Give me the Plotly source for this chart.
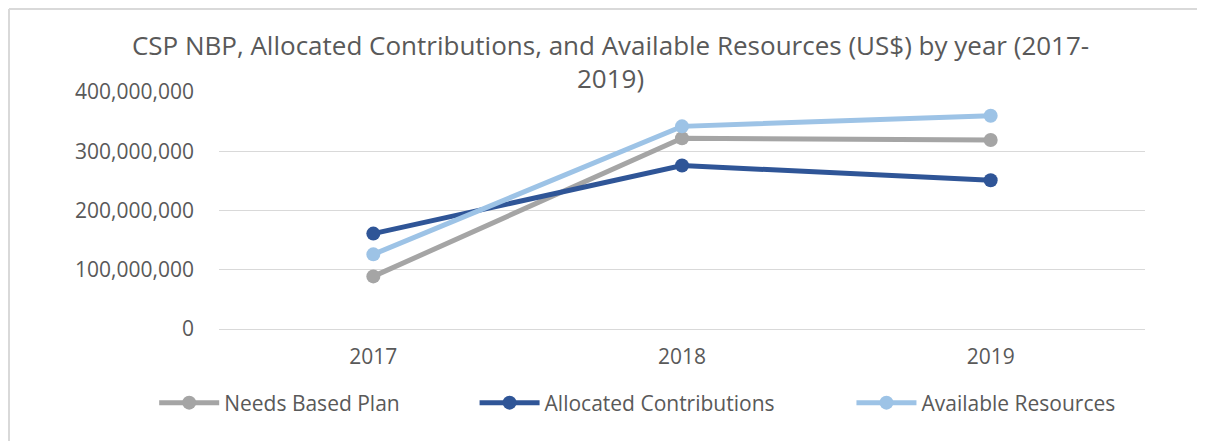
import plotly.graph_objects as go

years = ["2017", "2018", "2019"]
needs_based_plan = [88_800_000, 322_000_000, 319_000_000]
allocated_contributions = [161_000_000, 276_000_000, 251_000_000]
available_resources = [126_000_000, 342_000_000, 360_000_000]
y_ticks = [0, 100_000_000, 200_000_000, 300_000_000, 400_000_000]
y_tick_labels = ["0", "100,000,000", "200,000,000", "300,000,000", "400,000,000"]

series = [
    ("Needs Based Plan", needs_based_plan, "#A5A5A5", "legend", -0.07),
    ("Allocated Contributions", allocated_contributions, "#2F5597", "legend2", 0.276),
    ("Available Resources", available_resources, "#9DC3E6", "legend3", 0.683),
]

# page is offset by the body margin (8px), so the figure is sized to fill the rest
W, H = 1197, 433
L, R, T, B = 211, 60, 84, 112
PW, PH = W - L - R, H - T - B

fig = go.Figure()
font_color = "#595959"
legend_y = (H - B - 395) / PH
legend_layouts = {}
for name, vals, color, lg, lx in series:
    fig.add_trace(go.Scatter(
        x=years, y=vals, name=name, mode="lines+markers",
        line=dict(color=color, width=5),
        marker=dict(color=color, size=14),
        legend=lg,
    ))
    legend_layouts[lg] = dict(
        orientation="h", x=lx, xanchor="left", y=legend_y, yanchor="middle",
        font=dict(size=21, color=font_color, family="Open Sans"),
        itemwidth=60, bgcolor="rgba(0,0,0,0)",
    )

fig.update_layout(
    width=W, height=H,
    margin=dict(l=L, r=R, t=T, b=B, autoexpand=False),
    paper_bgcolor="white", plot_bgcolor="white",
    font=dict(family="Open Sans", color=font_color, size=21),
    title=dict(
        text="CSP NBP, Allocated Contributions, and Available Resources (US$) by year (2017-<br>2019)",
        x=0.5034, xanchor="center", y=1 - 46.5 / H, yanchor="middle",
        font=dict(size=26, color=font_color, family="Open Sans"),
    ),
    xaxis=dict(showgrid=False, showline=False, zeroline=False, ticks="",
               range=[-0.5, 2.5], ticklabelstandoff=13,
               tickfont=dict(size=21, color=font_color)),
    yaxis=dict(range=[0, 400_000_000], tickvals=y_ticks, ticktext=y_tick_labels,
               showgrid=True, gridcolor="#D9D9D9", gridwidth=1, zeroline=True,
               zerolinecolor="#D9D9D9", zerolinewidth=1, showline=False, ticks="",
               ticklabelstandoff=24,
               tickfont=dict(size=21, color=font_color)),
    showlegend=True,
    **legend_layouts,
)

# partial chart border (top and left) as in the reference crop
top = (H - B - 1) / PH
left = (0 + 1 - L) / PW
fig.add_shape(type="line", xref="paper", yref="paper",
              x0=left, x1=(W - L) / PW, y0=top, y1=top,
              line=dict(color="#D9D9D9", width=2))
fig.add_shape(type="line", xref="paper", yref="paper",
              x0=left, x1=left, y0=top, y1=-B / PH,
              line=dict(color="#D9D9D9", width=2))

fig.write_html("out.html")
